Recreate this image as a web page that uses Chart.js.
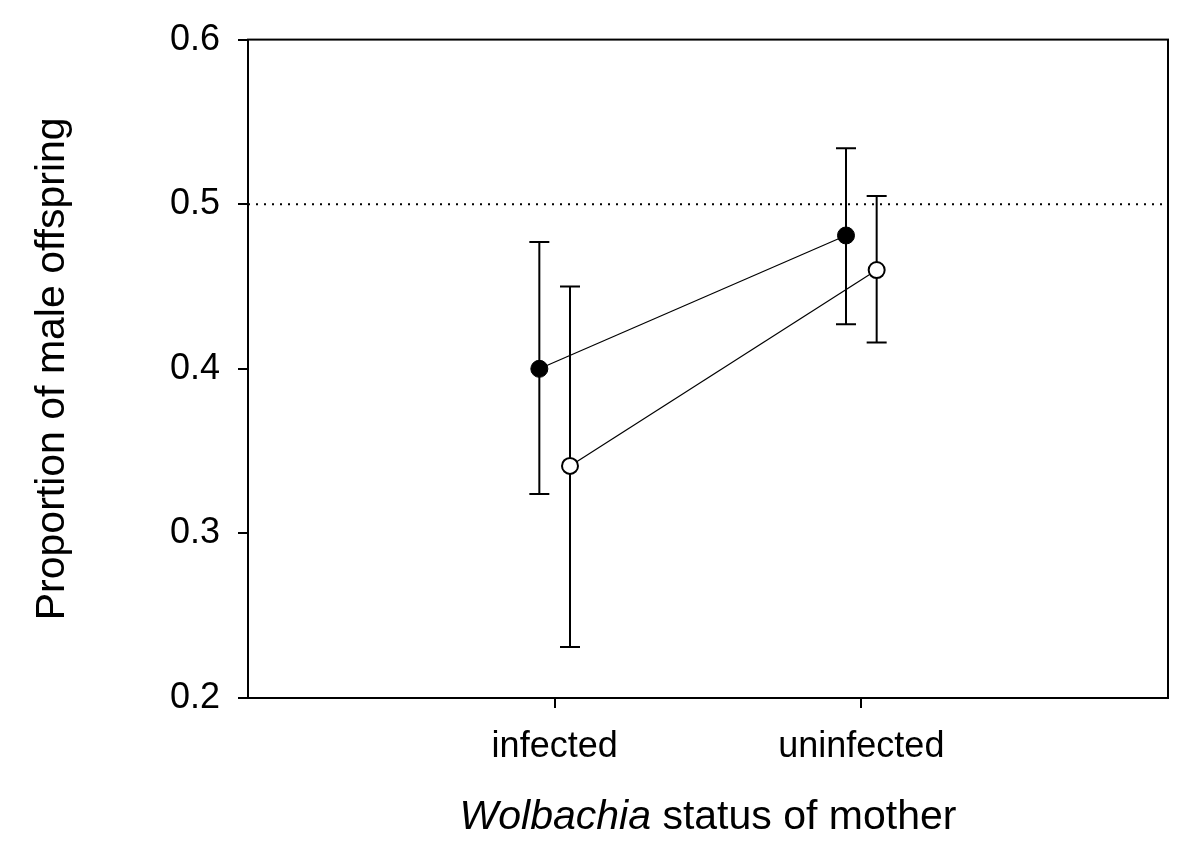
<!DOCTYPE html>
<html>
<head>
<meta charset="utf-8">
<script src="https://cdn.jsdelivr.net/npm/chart.js@4.4.0/dist/chart.umd.min.js"></script>
<style>
  body { margin: 0; background: #fff; }
</style>
</head>
<body>
<canvas id="sexRatioChart" width="1200" height="861"></canvas>
<script>
// categories on the x axis
const categories = ["infected", "uninfected"];
const yTicks = [0.2, 0.3, 0.4, 0.5, 0.6];

// filled circles
const solidMeans = [0.400, 0.481];
const solidLower = [0.324, 0.427];
const solidUpper = [0.477, 0.534];

// open circles
const openMeans = [0.341, 0.460];
const openLower = [0.231, 0.416];
const openUpper = [0.450, 0.505];

const referenceLine = 0.5;

const FONT = "'Liberation Sans', Arial, sans-serif";
const SHIFT = 0.05; // side-by-side offset of the two groups

function toPoints(values, shift) {
  return values.map((v, i) => ({ x: i + 1 + shift, y: v }));
}

// error bars are drawn under the markers
const errorBars = {
  id: "errorBars",
  beforeDatasetsDraw(chart) {
    const { ctx } = chart;
    const x = chart.scales.x;
    const y = chart.scales.y;
    const groups = [
      { lower: solidLower, upper: solidUpper, shift: -SHIFT },
      { lower: openLower, upper: openUpper, shift: SHIFT },
    ];
    ctx.save();
    ctx.strokeStyle = "#000";
    ctx.lineWidth = 2;
    groups.forEach((g) => {
      g.lower.forEach((lo, i) => {
        const px = x.getPixelForValue(i + 1 + g.shift);
        const top = y.getPixelForValue(g.upper[i]);
        const bot = y.getPixelForValue(lo);
        ctx.beginPath();
        ctx.moveTo(px, top);
        ctx.lineTo(px, bot);
        ctx.moveTo(px - 10, top);
        ctx.lineTo(px + 10, top);
        ctx.moveTo(px - 10, bot);
        ctx.lineTo(px + 10, bot);
        ctx.stroke();
      });
    });
    ctx.restore();
  },
};

// frame around the plot and the axis titles
const frameAndTitles = {
  id: "frameAndTitles",
  afterDraw(chart) {
    const { ctx, chartArea: a } = chart;
    ctx.save();
    ctx.strokeStyle = "#000";
    ctx.lineWidth = 2;
    ctx.strokeRect(a.left, a.top, a.right - a.left, a.bottom - a.top);

    ctx.fillStyle = "#000";
    ctx.textBaseline = "alphabetic";
    const italicPart = "Wolbachia";
    const plainPart = " status of mother";
    ctx.font = "italic 41px " + FONT;
    const w1 = ctx.measureText(italicPart).width;
    ctx.font = "41px " + FONT;
    const w2 = ctx.measureText(plainPart).width;
    const startX = (a.left + a.right) / 2 - (w1 + w2) / 2;
    ctx.font = "italic 41px " + FONT;
    ctx.textAlign = "left";
    ctx.fillText(italicPart, startX, 829);
    ctx.font = "41px " + FONT;
    ctx.fillText(plainPart, startX + w1, 829);

    ctx.translate(53, (a.top + a.bottom) / 2);
    ctx.rotate(-Math.PI / 2);
    ctx.textAlign = "center";
    ctx.textBaseline = "middle";
    ctx.fillText("Proportion of male offspring", 0, 0);
    ctx.restore();
  },
};

const ctx = document.getElementById("sexRatioChart").getContext("2d");
new Chart(ctx, {
  type: "scatter",
  data: {
    datasets: [
      {
        label: "reference",
        data: [{ x: 0, y: referenceLine }, { x: 3, y: referenceLine }],
        showLine: true,
        borderColor: "#000",
        borderWidth: 2,
        borderDash: [2, 6],
        pointRadius: 0,
      },
      {
        label: "filled",
        data: toPoints(solidMeans, -SHIFT),
        showLine: true,
        borderColor: "#000",
        borderWidth: 1.2,
        pointRadius: 8.5,
        pointBackgroundColor: "#000",
        pointBorderColor: "#000",
        pointBorderWidth: 1,
      },
      {
        label: "open",
        data: toPoints(openMeans, SHIFT),
        showLine: true,
        borderColor: "#000",
        borderWidth: 1.2,
        pointRadius: 8,
        pointBackgroundColor: "#fff",
        pointBorderColor: "#000",
        pointBorderWidth: 2,
      },
    ],
  },
  options: {
    responsive: false,
    animation: false,
    layout: { padding: { top: 39, right: 32, left: 0, bottom: 0 } },
    plugins: {
      legend: { display: false },
      tooltip: { enabled: false },
    },
    scales: {
      x: {
        type: "linear",
        min: 0,
        max: 3,
        afterBuildTicks: (axis) => {
          axis.ticks = categories.map((c, i) => ({ value: i + 1 }));
        },
        afterFit: (axis) => {
          axis.height = 163;
        },
        ticks: {
          color: "#000",
          font: { family: FONT, size: 36 },
          padding: 17,
          callback: (v) => categories[v - 1],
        },
        grid: {
          drawOnChartArea: false,
          drawTicks: true,
          tickLength: 10,
          color: "#000",
          lineWidth: 2,
        },
        border: { display: true, color: "#000", width: 2 },
      },
      y: {
        min: 0.2,
        max: 0.6,
        afterBuildTicks: (axis) => {
          axis.ticks = yTicks.map((v) => ({ value: v }));
        },
        afterFit: (axis) => {
          axis.width = 248;
        },
        ticks: {
          color: "#000",
          font: { family: FONT, size: 36 },
          padding: 18,
          callback: (v) => Number(v).toFixed(1),
        },
        grid: {
          drawOnChartArea: false,
          drawTicks: true,
          tickLength: 10,
          color: "#000",
          lineWidth: 2,
        },
        border: { display: true, color: "#000", width: 2 },
      },
    },
  },
  plugins: [errorBars, frameAndTitles],
});
</script>
</body>
</html>
